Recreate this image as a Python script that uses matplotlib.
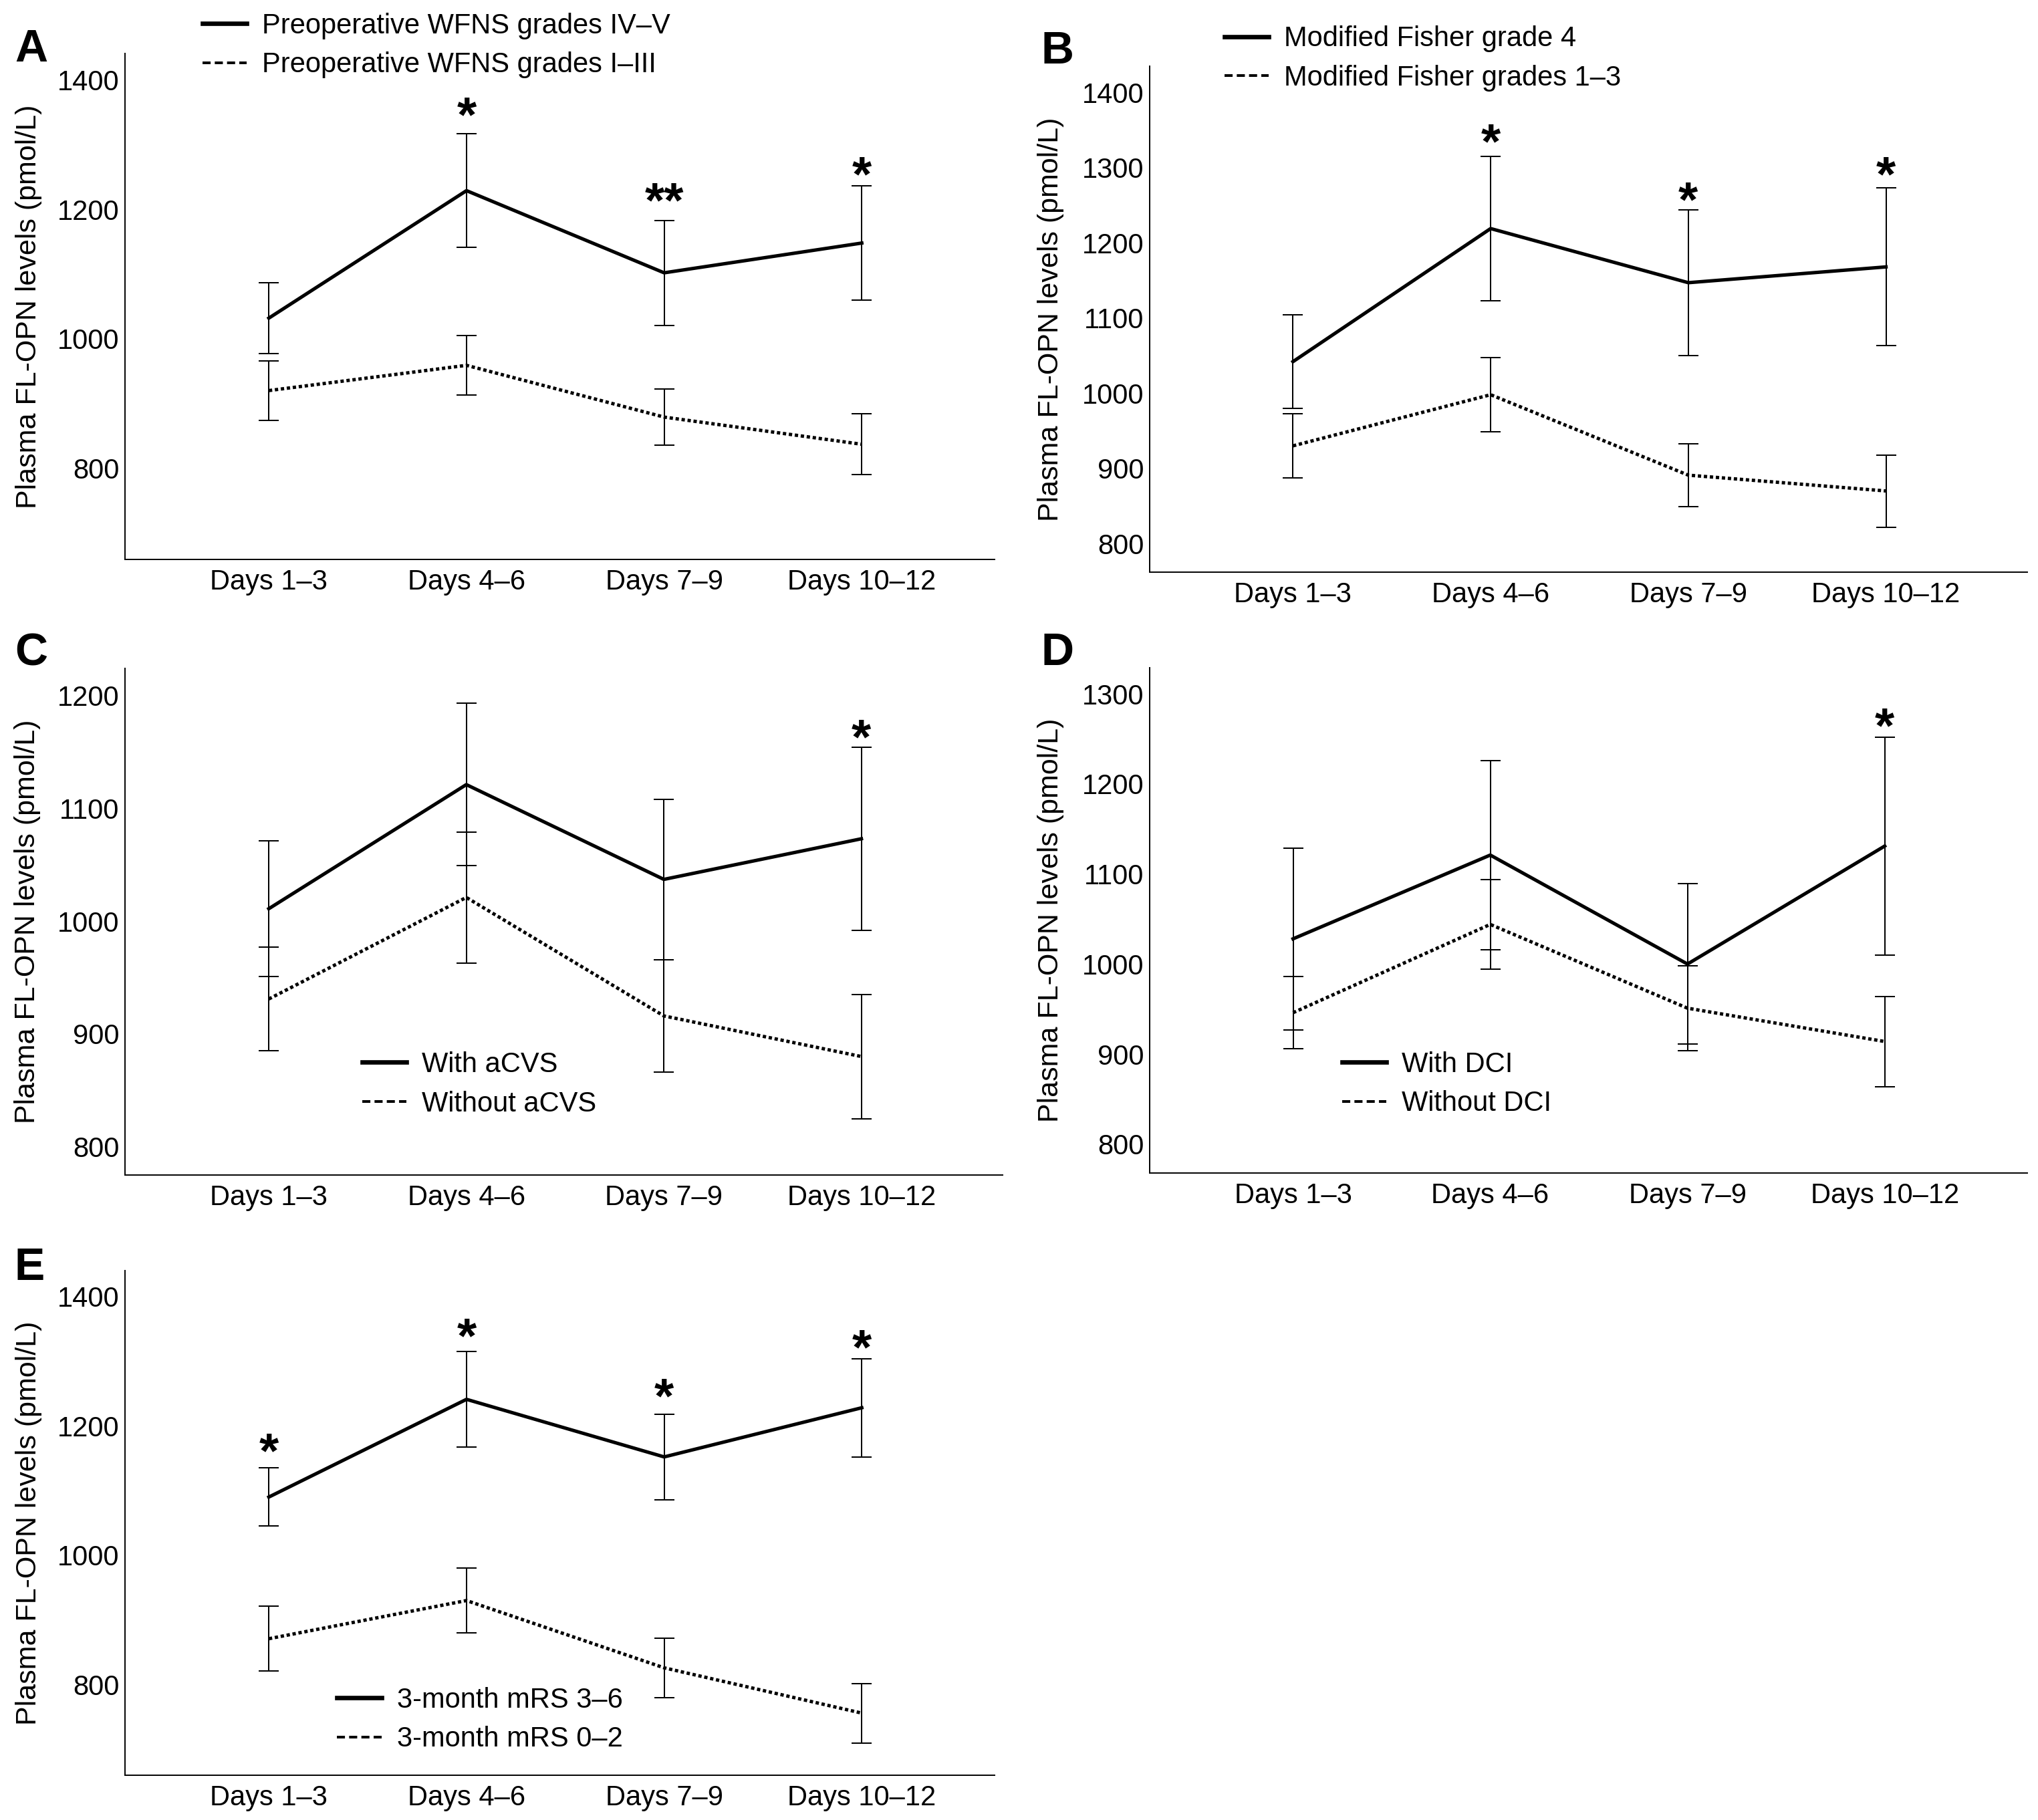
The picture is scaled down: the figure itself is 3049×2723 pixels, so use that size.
import matplotlib
matplotlib.use("Agg")
import matplotlib.pyplot as plt
from matplotlib.lines import Line2D

plt.rcParams['font.family'] = ['Liberation Sans', 'DejaVu Sans']

days = ['Days 1–3', 'Days 4–6', 'Days 7–9', 'Days 10–12']
x = [0, 1, 2, 3]

# Panel A - WFNS grade
a_hi = [1032, 1229, 1102, 1148]
a_hi_err = [55, 88, 81, 88]
a_lo = [920, 959, 879, 837]
a_lo_err = [46, 46, 43, 47]
a_labels = ['Preoperative WFNS grades IV–V', 'Preoperative WFNS grades I–III']
a_stars = [(1, '*', 1367), (2, '**', 1234), (3, '*', 1275)]

# Panel B - modified Fisher grade
b_hi = [1042, 1219, 1147, 1168]
b_hi_err = [62, 96, 97, 105]
b_lo = [930, 998, 891, 870]
b_lo_err = [43, 49, 42, 48]
b_labels = ['Modified Fisher grade 4', 'Modified Fisher grades 1–3']
b_stars = [(1, '*', 1352), (2, '*', 1275), (3, '*', 1309)]

# Panel C - aCVS
c_hi = [1011, 1121, 1037, 1073]
c_hi_err = [60, 72, 71, 81]
c_lo = [931, 1021, 916, 880]
c_lo_err = [46, 58, 50, 55]
c_labels = ['With aCVS', 'Without aCVS']
c_stars = [(3, '*', 1175)]

# Panel D - DCI
d_hi = [1028, 1121, 1000, 1131]
d_hi_err = [101, 105, 89, 121]
d_lo = [946, 1044, 951, 914]
d_lo_err = [40, 50, 47, 50]
d_labels = ['With DCI', 'Without DCI']
d_stars = [(3, '*', 1279)]

# Panel E - 3-month mRS
e_hi = [1090, 1241, 1152, 1228]
e_hi_err = [45, 74, 66, 76]
e_lo = [871, 930, 826, 756]
e_lo_err = [50, 50, 46, 46]
e_labels = ['3-month mRS 3–6', '3-month mRS 0–2']
e_stars = [(0, '*', 1182), (1, '*', 1360), (2, '*', 1267), (3, '*', 1342)]

W, H = 3049, 2723
fig = plt.figure(figsize=(W / 100, H / 100), dpi=100)


def box(l, t, r, b):
    return [l / W, 1 - b / H, (r - l) / W, (b - t) / H]


def panel(rect, letter, letter_xy, hi, hi_err, lo, lo_err, labels, stars, ylim, xlim, yticks, leg_pos, ylab_x):
    ax = fig.add_axes(rect)
    ax.errorbar(x, hi, yerr=hi_err, color='black', lw=3.7, elinewidth=1.45,
                capsize=10.8, capthick=1.45)
    ax.errorbar(x, lo, yerr=lo_err, color='black', lw=3.6, elinewidth=1.45,
                capsize=10.8, capthick=1.45, linestyle=(0, (1.0, 0.8)))
    # significance marks
    for i, s, y in stars:
        ax.annotate(s, (x[i], y), xytext=(0, -32), textcoords='offset points',
                    ha='center', va='baseline', fontsize=54, fontweight='bold')
    ax.set_xlim(*xlim)
    ax.set_ylim(*ylim)
    ax.set_yticks(yticks)
    ax.set_xticks(x)
    ax.set_xticklabels(days)
    ax.tick_params(axis='both', length=0, labelsize=30)
    ax.tick_params(axis='y', pad=6)
    ax.tick_params(axis='x', pad=10)
    for sp in ['top', 'right']:
        ax.spines[sp].set_visible(False)
    for sp in ['left', 'bottom']:
        ax.spines[sp].set_linewidth(1.4)
    ax.set_ylabel('Plasma FL-OPN levels (pmol/L)', fontsize=31, va='center')
    ax.yaxis.set_label_coords(ylab_x, 0.5)
    handles = [Line2D([], [], color='black', lw=4.8),
               Line2D([], [], color='black', lw=2.9, linestyle=(0, (3.0, 1.55)))]
    ax.legend(handles, labels, loc='center left', bbox_to_anchor=leg_pos,
              frameon=False, fontsize=30, handlelength=1.6, handletextpad=0.55,
              borderpad=0, borderaxespad=0, labelspacing=0.45)
    fig.text(letter_xy[0] / W, 1 - letter_xy[1] / H, letter, fontsize=49,
             fontweight='bold', ha='left', va='baseline')
    return ax


panel(box(187, 80, 1488, 837), 'A', (22, 92), a_hi, a_hi_err, a_lo, a_lo_err, a_labels, a_stars,
      (659, 1441), (-0.728, 3.672), [800, 1000, 1200, 1400], (0.089, 1.016), -0.111)
panel(box(1720, 99, 3033, 856), 'B', (1557, 95), b_hi, b_hi_err, b_lo, b_lo_err, b_labels, b_stars,
      (762, 1435), (-0.725, 3.715), [800, 900, 1000, 1100, 1200, 1300, 1400], (0.085, 1.015), -0.113)
panel(box(187, 1000, 1500, 1758), 'C', (22, 995), c_hi, c_hi_err, c_lo, c_lo_err, c_labels, c_stars,
      (775, 1224), (-0.728, 3.715), [800, 900, 1000, 1100, 1200], (0.27, 0.179), -0.111)
panel(box(1720, 999, 3033, 1755), 'D', (1557, 995), d_hi, d_hi_err, d_lo, d_lo_err, d_labels, d_stars,
      (768, 1329), (-0.727, 3.723), [800, 900, 1000, 1100, 1200, 1300], (0.219, 0.176), -0.113)
panel(box(187, 1901, 1488, 2656), 'E', (22, 1915), e_hi, e_hi_err, e_lo, e_lo_err, e_labels, e_stars,
      (660, 1440), (-0.728, 3.672), [800, 1000, 1200, 1400], (0.244, 0.11), -0.111)

fig.savefig('out.png', dpi=100, facecolor='white')
